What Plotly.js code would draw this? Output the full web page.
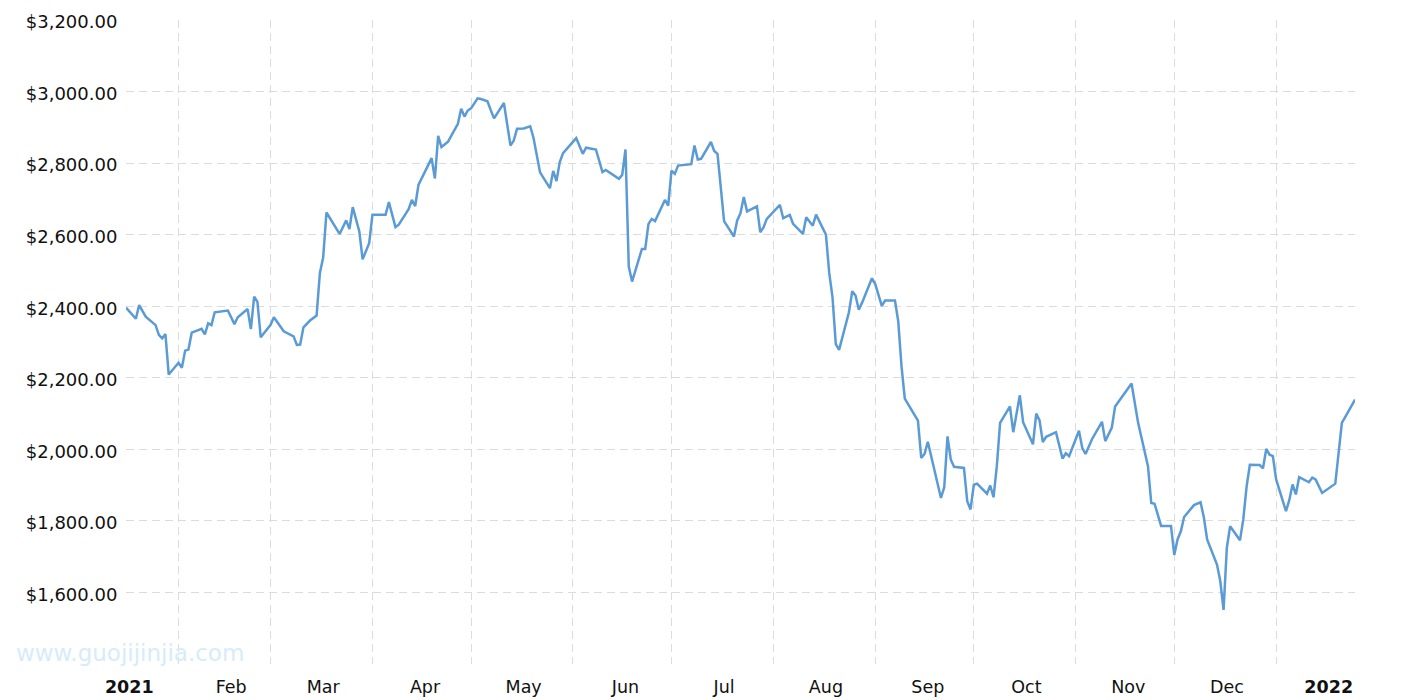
<!DOCTYPE html>
<html>
<head>
<meta charset="utf-8">
<script src="https://cdn.plot.ly/plotly-3.0.1.min.js"></script>
<style>
html,body{margin:0;padding:0;background:#fff;}
#chart{width:1415px;height:700px;}
</style>
</head>
<body>
<div id="chart"></div>
<script>
const dates = [
'2021-01-16','2021-01-19','2021-01-20','2021-01-22','2021-01-25','2021-01-26','2021-01-27','2021-01-28','2021-01-29',
'2021-02-01','2021-02-02','2021-02-03','2021-02-04','2021-02-05','2021-02-08','2021-02-09','2021-02-10','2021-02-11','2021-02-12',
'2021-02-16','2021-02-18','2021-02-19','2021-02-22','2021-02-23','2021-02-24','2021-02-25','2021-02-26',
'2021-03-01','2021-03-02','2021-03-05','2021-03-08','2021-03-09','2021-03-10','2021-03-11','2021-03-13','2021-03-15','2021-03-16',
'2021-03-17','2021-03-18','2021-03-20','2021-03-22','2021-03-24','2021-03-25','2021-03-26','2021-03-28','2021-03-29','2021-03-31',
'2021-04-01','2021-04-05','2021-04-06','2021-04-08','2021-04-09','2021-04-12','2021-04-13','2021-04-14','2021-04-15','2021-04-17',
'2021-04-19','2021-04-20','2021-04-21','2021-04-22','2021-04-24','2021-04-27','2021-04-28','2021-04-29','2021-04-30',
'2021-05-01','2021-05-03','2021-05-04','2021-05-06','2021-05-07','2021-05-08','2021-05-11','2021-05-13','2021-05-14','2021-05-15',
'2021-05-17','2021-05-19','2021-05-20','2021-05-22','2021-05-25','2021-05-26','2021-05-27','2021-05-28','2021-05-29',
'2021-06-02','2021-06-04','2021-06-05','2021-06-08','2021-06-10','2021-06-11','2021-06-15','2021-06-16','2021-06-17','2021-06-18',
'2021-06-19','2021-06-22','2021-06-23','2021-06-24','2021-06-25','2021-06-26','2021-06-29','2021-06-30',
'2021-07-01','2021-07-02','2021-07-03','2021-07-07','2021-07-08','2021-07-09','2021-07-10','2021-07-13','2021-07-14','2021-07-15',
'2021-07-16','2021-07-17','2021-07-20','2021-07-21','2021-07-22','2021-07-23','2021-07-24','2021-07-27','2021-07-28','2021-07-29','2021-07-30',
'2021-08-03','2021-08-04','2021-08-06','2021-08-07','2021-08-10','2021-08-11','2021-08-13','2021-08-14','2021-08-17','2021-08-18',
'2021-08-19','2021-08-20','2021-08-21','2021-08-24','2021-08-25','2021-08-26','2021-08-27','2021-08-28','2021-08-31',
'2021-09-01','2021-09-03','2021-09-04','2021-09-07','2021-09-08','2021-09-09','2021-09-10','2021-09-14','2021-09-15','2021-09-16',
'2021-09-17','2021-09-21','2021-09-22','2021-09-23','2021-09-24','2021-09-25','2021-09-28','2021-09-29','2021-09-30',
'2021-10-01','2021-10-02','2021-10-05','2021-10-06','2021-10-07','2021-10-08','2021-10-09','2021-10-12','2021-10-13','2021-10-15',
'2021-10-16','2021-10-19','2021-10-20','2021-10-21','2021-10-22','2021-10-23','2021-10-26','2021-10-28','2021-10-29','2021-10-30',
'2021-11-02','2021-11-03','2021-11-04','2021-11-06','2021-11-09','2021-11-10','2021-11-12','2021-11-13','2021-11-16','2021-11-18',
'2021-11-20','2021-11-23','2021-11-24','2021-11-25','2021-11-27','2021-11-30',
'2021-12-01','2021-12-02','2021-12-03','2021-12-04','2021-12-07','2021-12-09','2021-12-10','2021-12-11','2021-12-14','2021-12-15',
'2021-12-16','2021-12-17','2021-12-18','2021-12-21','2021-12-22','2021-12-23','2021-12-24','2021-12-27','2021-12-28','2021-12-29',
'2021-12-30','2021-12-31',
'2022-01-01','2022-01-04','2022-01-05','2022-01-06','2022-01-07','2022-01-08','2022-01-11','2022-01-12','2022-01-13','2022-01-15',
'2022-01-19','2022-01-21','2022-01-23','2022-01-25'
];
const prices = [
2396,2365,2403,2371,2347,2320,2310,2322,2209,
2242,2228,2276,2279,2326,2337,2321,2352,2347,2383,
2388,2350,2369,2392,2336,2427,2412,2313,
2348,2369,2330,2316,2292,2293,2341,2360,2374,2493,
2536,2662,2630,2602,2640,2616,2677,2609,2531,2576,
2656,2656,2691,2621,2628,2671,2697,2680,2739,2775,
2814,2757,2876,2845,2860,2910,2952,2930,2947,
2953,2981,2979,2973,2948,2925,2968,2849,2863,2896,
2897,2903,2871,2774,2730,2778,2750,2803,2828,
2870,2826,2843,2838,2775,2781,2756,2767,2838,2511,
2469,2560,2560,2630,2644,2638,2697,2681,
2779,2770,2793,2797,2849,2810,2812,2859,2834,2826,
2736,2638,2595,2640,2660,2705,2665,2679,2607,2620,2644,
2683,2646,2655,2630,2602,2649,2625,2656,2600,2493,
2425,2294,2278,2383,2442,2430,2390,2410,2478,
2462,2401,2416,2416,2358,2232,2142,2080,1976,1987,
2021,1864,1894,2036,1971,1951,1948,1855,1832,
1901,1904,1876,1899,1866,1953,2074,2120,2048,2151,
2076,2014,2100,2081,2020,2035,2048,1974,1989,1981,
2052,2004,1987,2029,2077,2023,2061,2120,2158,2184,
2074,1953,1850,1848,1786,1786,
1705,1748,1771,1811,1844,1852,1810,1748,1678,1632,
1551,1725,1785,1746,1804,1895,1957,1956,1947,2001,
1985,1981,
1916,1827,1858,1902,1874,1922,1908,1921,1916,1878,
1904,2074,2106,2139
];
const xTickDates = ['2021-01-17','2021-02-17','2021-03-17','2021-04-17','2021-05-17','2021-06-17','2021-07-17','2021-08-17','2021-09-17','2021-10-17','2021-11-17','2021-12-17','2022-01-17'];
const xTickLabels = ['<b>2021</b>','Feb','Mar','Apr','May','Jun','Jul','Aug','Sep','Oct','Nov','Dec','<b>2022</b>'];
const monthStarts = ['2021-02-01','2021-03-01','2021-04-01','2021-05-01','2021-06-01','2021-07-01','2021-08-01','2021-09-01','2021-10-01','2021-11-01','2021-12-01','2022-01-01'];
const yTickValues = [1400,1600,1800,2000,2200,2400,2600,2800,3000,3200];
const yTickLabels = ['','$1,600.00','$1,800.00','$2,000.00','$2,200.00','$2,400.00','$2,600.00','$2,800.00','$3,000.00','$3,200.00'];
const watermark = 'www.guojijinjia.com';

const FONT = '"DejaVu Sans", Verdana, sans-serif';
const GRID = '#dcdcdc';
const DASH = '8px,5px';

const trace = {
  type: 'scatter',
  mode: 'lines',
  x: dates,
  y: prices,
  line: {color: '#5b9bd5', width: 2.5},
  hoverinfo: 'skip'
};

const layout = {
  width: 1415,
  height: 700,
  margin: {l: 126, r: 60, t: 20, b: 36, pad: 0},
  paper_bgcolor: '#ffffff',
  plot_bgcolor: '#ffffff',
  showlegend: false,
  font: {family: FONT, size: 17, color: '#111111'},
  xaxis: {
    type: 'date',
    range: [dates[0], dates[dates.length - 1]],
    tickmode: 'array',
    tickvals: xTickDates,
    ticktext: xTickLabels,
    ticks: 'outside',
    ticklen: 7,
    tickcolor: 'rgba(0,0,0,0)',
    showgrid: false,
    zeroline: false,
    showline: false,
    tickfont: {family: FONT, size: 17.5, color: '#111111'},
    minor: {
      tickmode: 'array',
      tickvals: monthStarts,
      showgrid: true,
      gridcolor: GRID,
      gridwidth: 1,
      griddash: DASH,
      ticks: ''
    },
    fixedrange: true
  },
  yaxis: {
    range: [1400, 3200],
    tickmode: 'array',
    tickvals: yTickValues,
    ticktext: yTickLabels,
    ticks: 'outside',
    ticklen: 4,
    tickcolor: 'rgba(0,0,0,0)',
    ticklabelshift: 2,
    showgrid: true,
    gridcolor: GRID,
    gridwidth: 1,
    griddash: DASH,
    zeroline: false,
    showline: false,
    tickfont: {family: FONT, size: 18, color: '#111111'},
    fixedrange: true
  },
  annotations: [{
    text: watermark,
    xref: 'paper', yref: 'paper',
    x: -0.0912, y: 0.017,
    xanchor: 'left', yanchor: 'middle',
    showarrow: false,
    font: {family: FONT, size: 23, color: '#d6ecfb'}
  }]
};

Plotly.newPlot('chart', [trace], layout, {displayModeBar: false, staticPlot: true});
</script>
</body>
</html>
